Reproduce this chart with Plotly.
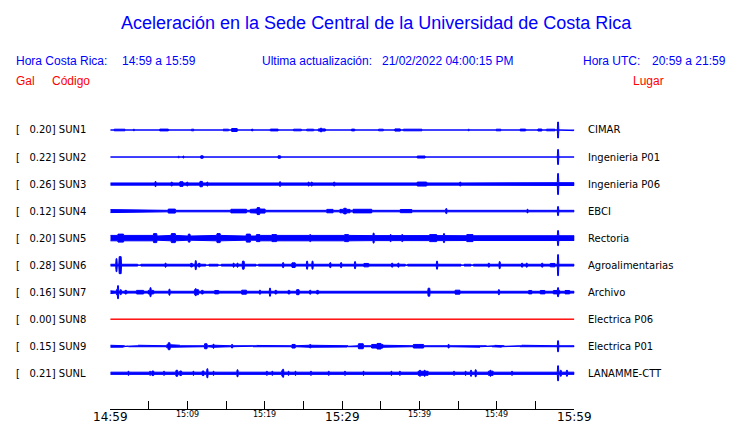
import numpy as np
import plotly.graph_objects as go

# ---------------- data ----------------
station_codes = ["SUN1", "SUN2", "SUN3", "SUN4", "SUN5", "SUN6", "SUN7", "SUN8", "SUN9", "SUNL"]
station_places = ["CIMAR", "Ingenieria P01", "Ingenieria P06", "EBCI", "Rectoria",
                  "Agroalimentarias", "Archivo", "Electrica P06", "Electrica P01", "LANAMME-CTT"]
peak_gal = [0.20, 0.22, 0.26, 0.12, 0.20, 0.28, 0.16, 0.00, 0.15, 0.21]
# background half-amplitude of each trace (display units)
base_amp = [0.5, 0.5, 1.6, 1.25, 2.6, 1.4, 1.4, 0.5, 1.0, 1.6]

# bursts: (start minute, end minute, half-amplitude)
sun1 = [(0.5, 1.9, 1.3), (3.0, 3.0, 1.3), (3.9, 4.2, 1.2), (4.7, 4.9, 1.2), (5.8, 6.1, 1.2),
        (6.4, 7.5, 1.4), (7.7, 9.0, 1.2), (9.4, 9.8, 1.2), (10.5, 10.8, 1.3), (11.6, 14.0, 1.2),
        (14.6, 15.3, 1.3), (15.7, 16.4, 2.0), (16.9, 16.9, 1.2), (18.3, 18.3, 1.5), (19.7, 20.0, 1.2),
        (20.7, 21.7, 1.4), (22.6, 23.2, 1.2), (23.7, 24.7, 1.3), (25.4, 26.3, 1.3), (26.9, 27.8, 1.6),
        (27.2, 27.2, 2.5), (28.8, 29.9, 1.2), (31.2, 31.6, 1.4), (32.4, 33.0, 1.2), (33.4, 34.0, 1.2),
        (34.7, 35.3, 1.3), (36.0, 36.6, 1.2), (36.8, 37.5, 1.6), (37.9, 40.3, 1.3), (41.1, 42.2, 1.2),
        (42.6, 44.4, 1.2), (45.0, 45.4, 1.2), (46.3, 46.3, 1.3), (47.8, 48.0, 1.2), (48.7, 48.9, 1.2),
        (49.9, 50.5, 1.3), (51.3, 52.4, 1.2), (53.0, 53.7, 1.4), (55.3, 55.8, 1.5), (56.4, 57.5, 1.3),
        (57.85, 57.95, 8.5), (59.0, 59.9, 1.2)]
sun2 = [(8.8, 8.8, 1.3), (9.4, 9.4, 1.5), (10.7, 10.7, 1.0), (11.7, 12.0, 1.7), (21.7, 22.0, 1.7),
        (39.7, 40.7, 1.5), (56.0, 56.0, 1.0), (57.85, 57.95, 8.0)]
sun3 = [(5.8, 5.8, 3.0), (7.9, 7.9, 2.5), (9.0, 9.4, 2.8), (9.9, 9.9, 2.5), (11.6, 11.9, 3.2),
        (12.5, 12.5, 2.5), (21.9, 21.9, 2.8), (25.6, 25.6, 2.5), (26.0, 26.0, 2.5), (28.9, 28.9, 2.5),
        (34.6, 34.6, 2.3), (39.7, 40.9, 2.5), (45.2, 45.2, 2.5), (56.5, 60.0, 1.9),
        (57.85, 57.95, 11.0)]
sun4 = [(0.0, 1.25, 2.0), (1.9, 2.5, 1.8), (3.2, 4.3, 1.8), (4.9, 5.6, 1.8), (7.5, 8.4, 2.5),
        (8.6, 9.4, 2.0), (10.1, 10.9, 1.8), (11.6, 12.9, 2.0), (13.5, 14.2, 1.8), (14.8, 15.3, 1.8),
        (15.6, 17.6, 2.3), (18.1, 18.7, 2.2), (18.7, 20.0, 2.5), (19.0, 19.3, 4.0), (24.1, 24.1, 2.0),
        (26.7, 27.3, 2.0), (28.0, 28.8, 2.2), (29.7, 31.0, 2.2), (30.2, 30.5, 3.3), (31.4, 33.8, 2.3),
        (32.0, 32.3, 3.0), (36.0, 36.0, 1.8), (37.5, 39.0, 2.1), (39.7, 39.7, 2.0), (41.6, 42.6, 2.0),
        (43.4, 43.4, 3.0), (48.1, 48.1, 1.8), (53.9, 53.9, 2.3), (57.85, 57.95, 5.0), (58.6, 58.6, 2.0)]
sun5 = [(0.0, 5.6, 3.2), (1.0, 1.7, 4.5), (5.6, 6.0, 5.0), (6.2, 9.9, 3.2), (7.9, 8.4, 5.0),
        (10.1, 10.3, 4.5), (11.6, 16.8, 3.2), (13.8, 14.2, 5.0), (17.6, 18.1, 4.5), (18.9, 19.4, 4.0),
        (19.4, 21.8, 3.2), (20.9, 21.5, 4.0), (23.0, 23.0, 3.5), (22.9, 27.3, 3.2), (25.8, 25.8, 4.0),
        (29.7, 31.0, 3.2), (30.3, 30.8, 4.0), (31.0, 44.0, 3.0), (44.0, 60.0, 2.9), (34.0, 34.0, 5.5),
        (36.2, 36.2, 4.0), (37.7, 37.7, 4.0), (41.3, 42.2, 4.0), (43.1, 43.1, 5.0), (46.1, 46.9, 4.0),
        (50.4, 50.4, 3.5), (54.1, 54.1, 3.5), (57.85, 57.95, 8.0)]
sun6 = [(0.75, 0.85, 7.0), (1.15, 1.4, 9.0), (3.6, 3.9, 0.6), (7.1, 7.1, 2.5), (9.4, 9.4, 2.0),
        (10.4, 10.6, 2.3), (11.0, 11.0, 5.0), (11.4, 11.6, 2.3), (12.4, 12.7, 0.6), (14.0, 14.3, 0.6),
        (15.9, 15.9, 2.5), (16.4, 16.4, 2.5), (17.1, 17.3, 4.5), (18.9, 19.1, 0.6), (19.6, 19.6, 2.0),
        (22.3, 22.3, 3.0), (23.5, 23.9, 2.8), (25.4, 25.4, 4.5), (26.1, 26.1, 4.5), (27.1, 27.1, 2.0),
        (28.4, 28.4, 3.0), (29.8, 29.8, 3.0), (30.6, 30.6, 2.0), (31.6, 31.6, 4.0), (32.8, 33.4, 2.2),
        (36.4, 36.4, 2.5), (37.2, 37.2, 2.5), (38.2, 38.4, 0.6), (39.7, 39.7, 2.0), (42.2, 42.2, 4.5),
        (44.6, 45.0, 2.0), (45.4, 45.7, 0.6), (46.7, 46.9, 0.6), (48.9, 48.9, 2.5), (50.3, 50.3, 4.0),
        (53.2, 53.2, 2.5), (53.8, 53.8, 2.5), (55.8, 55.8, 2.5), (56.9, 57.5, 2.2), (57.85, 57.95, 11.0)]
sun7 = [(0.0, 0.6, 1.9), (0.8, 0.8, 3.0), (0.95, 1.05, 7.0), (1.3, 1.3, 3.0), (1.9, 2.1, 2.3),
        (3.4, 4.3, 2.3), (4.5, 4.5, 2.0), (4.9, 5.6, 2.3), (5.15, 5.25, 5.0), (6.2, 7.3, 2.1),
        (7.6, 7.6, 3.5), (7.9, 9.0, 2.1), (9.7, 10.5, 2.1), (10.9, 11.4, 3.0), (11.0, 11.1, 4.0),
        (11.8, 12.0, 2.3), (13.5, 14.0, 2.2), (14.8, 14.8, 2.0), (15.5, 15.9, 2.0), (17.0, 17.6, 2.5),
        (19.3, 19.3, 2.5), (20.6, 20.7, 4.5), (21.3, 21.5, 2.3), (23.0, 23.2, 2.3), (24.1, 24.4, 3.0),
        (25.8, 25.8, 2.5), (26.7, 26.9, 2.3), (28.0, 28.0, 2.0), (29.7, 30.8, 2.1), (30.8, 32.5, 2.0),
        (33.1, 35.3, 2.0), (36.8, 39.6, 2.0), (41.1, 41.3, 4.5), (41.8, 43.1, 2.1), (44.6, 45.2, 2.5),
        (46.7, 47.4, 1.9), (50.2, 50.2, 3.0), (51.5, 52.5, 2.1), (54.1, 54.5, 2.2), (55.6, 56.2, 2.2),
        (57.3, 58.1, 2.2), (57.85, 57.95, 5.0), (58.8, 59.4, 2.2)]
sun8 = []
sun9 = [(0.0, 0.6, 1.5), (0.8, 1.7, 1.4), (1.9, 2.3, 0.5), (3.6, 4.5, 1.5), (4.9, 7.1, 1.4),
        (7.3, 7.9, 2.0), (7.5, 7.7, 4.0), (7.9, 9.0, 1.5), (9.2, 11.6, 1.4), (12.2, 12.5, 3.0),
        (12.7, 14.6, 1.5), (13.3, 13.3, 2.5), (15.7, 15.7, 2.3), (17.6, 18.4, 0.5), (18.9, 19.4, 1.3),
        (20.6, 22.8, 1.5), (23.5, 23.9, 2.3), (25.4, 27.3, 1.5), (25.8, 25.8, 2.3), (28.4, 30.6, 1.3),
        (30.8, 31.6, 0.5), (32.1, 32.7, 3.0), (33.8, 35.3, 2.3), (34.5, 35.0, 3.3), (35.3, 38.3, 1.5),
        (39.2, 40.5, 2.3), (39.7, 39.9, 3.0), (41.8, 42.6, 1.5), (43.7, 43.7, 2.3), (45.0, 46.1, 1.5),
        (46.7, 47.8, 1.5), (48.7, 49.3, 0.5), (49.7, 50.6, 1.4), (51.0, 52.9, 0.5), (53.2, 57.3, 1.5),
        (57.85, 57.95, 6.0), (58.6, 59.9, 1.3)]
sunl = [(2.3, 2.3, 2.5), (5.1, 5.1, 2.5), (5.4, 5.6, 2.8), (6.2, 6.2, 2.0), (6.9, 6.9, 2.5),
        (8.5, 8.7, 3.5), (9.0, 9.2, 2.8), (10.7, 10.7, 2.5), (11.9, 12.1, 2.8), (12.5, 12.5, 5.0),
        (13.3, 13.3, 2.5), (16.4, 16.4, 4.0), (20.2, 20.2, 2.5), (20.9, 20.9, 2.5), (22.2, 22.4, 3.5),
        (22.3, 22.3, 4.5), (23.0, 23.0, 2.5), (23.9, 23.9, 2.5), (25.9, 25.9, 2.5), (28.2, 28.2, 2.5),
        (30.3, 30.3, 2.5), (32.7, 32.7, 2.5), (36.3, 36.3, 2.5), (37.4, 37.4, 2.5), (39.8, 41.1, 2.5),
        (40.0, 40.0, 3.5), (40.6, 40.6, 3.5), (44.4, 44.4, 2.5), (45.9, 45.9, 2.5), (46.6, 46.6, 3.5),
        (47.2, 47.2, 4.0), (48.9, 49.5, 2.6), (49.1, 49.1, 3.5), (51.9, 51.9, 2.5), (53.8, 54.7, 2.2),
        (57.85, 57.95, 8.0), (58.2, 58.2, 3.5), (59.0, 59.0, 3.5)]
station_bursts = [sun1, sun2, sun3, sun4, sun5, sun6, sun7, sun8, sun9, sunl]

tick_minutes = list(range(0, 61, 5))
label_minutes = [0, 10, 20, 30, 40, 50, 60]
label_texts = ["14:59", "15:09", "15:19", "15:29", "15:39", "15:49", "15:59"]
label_major = [True, False, False, True, False, False, True]

title_text = "Aceleración en la Sede Central de la Universidad de Costa Rica"

# ---------------- layout constants ----------------
PAGE_OFF = 8                 # default body margin of the html page
W, H = 740 - PAGE_OFF, 423 - PAGE_OFF
X0_PX, X1_PX = 110.3, 574.3  # page pixels of the time axis ends
AXIS_PX = 409
ROW0, ROW_GAP = 130.0, 27.03
BLUE, RED = "#0000ff", "#ff0000"
trace_colors = [BLUE] * 7 + [RED] + [BLUE] * 2

GRID = np.arange(0, 60.0001, 0.05)


def envelope(base, bursts):
    env = np.full_like(GRID, base)
    for t0, t1, a in bursts:
        t1 = max(t1, t0 + 0.13)
        m = (GRID >= t0 - 1e-9) & (GRID <= t1 + 1e-9)
        env[m] = a
    return env


fig = go.Figure()
for i, code in enumerate(station_codes):
    y0 = ROW0 + i * ROW_GAP
    env = envelope(base_amp[i], station_bursts[i])
    half = np.maximum(env - 0.5, 0)
    xs = np.concatenate([GRID, GRID[::-1]])
    ys = np.concatenate([y0 - half, (y0 + half)[::-1]])
    fig.add_trace(go.Scatter(x=xs, y=ys, mode="lines", fill="toself",
                             fillcolor=trace_colors[i],
                             line=dict(color=trace_colors[i], width=1),
                             hoverinfo="skip", showlegend=False))


def px(x):
    return (x - PAGE_OFF) / W


def py(y):
    return 1 - (y - PAGE_OFF) / H


ann = []


def text(x, y, s, color="black", size=12, family="Liberation Sans", xanchor="left"):
    ann.append(dict(x=px(x), y=py(y), xref="paper", yref="paper", text=s, showarrow=False,
                    xanchor=xanchor, yanchor="middle", borderpad=0,
                    font=dict(color=color, size=size, family=family)))


text(376, 23, title_text, BLUE, 18, xanchor="center")
text(15, 60.5, "Hora Costa Rica:", BLUE)
text(121, 60.5, "14:59 a 15:59", BLUE)
text(261, 60.5, "Ultima actualización:", BLUE)
text(380.5, 60.5, "21/02/2022 04:00:15 PM", BLUE)
text(581.5, 60.5, "Hora UTC:", BLUE)
text(651, 60.5, "20:59 a 21:59", BLUE)
text(15, 81, "Gal", RED)
text(51, 81, "Código", RED)
text(632, 81, "Lugar", RED)

for i, code in enumerate(station_codes):
    y0 = ROW0 + i * ROW_GAP
    lbl = "[\u00a0\u00a0\u00a0" + f"{peak_gal[i]:.2f}" + "]\u00a0" + code
    text(15, y0, lbl, "black", 10, "DejaVu Sans")
    text(587, y0, station_places[i], "black", 10, "DejaVu Sans")

for m, s, major in zip(label_minutes, label_texts, label_major):
    xp = X0_PX + (X1_PX - X0_PX) * m / 60
    if major:
        text(xp, 416.5, s, "black", 12, "DejaVu Sans", xanchor="center")
    else:
        text(xp, 414.5, s, "black", 8, "DejaVu Sans", xanchor="center")

fig.update_layout(
    width=W, height=H, margin=dict(l=0, r=0, t=0, b=0),
    paper_bgcolor="white", plot_bgcolor="white",
    annotations=ann, showlegend=False,
    xaxis=dict(domain=[px(X0_PX), px(X1_PX)], range=[0, 60], showgrid=False, zeroline=False,
               showline=True, linecolor="black", linewidth=1, ticks="inside", ticklen=8,
               tickcolor="black", tickwidth=1, tickvals=tick_minutes, showticklabels=False,
               fixedrange=True),
    yaxis=dict(domain=[py(AXIS_PX), 1], range=[AXIS_PX, PAGE_OFF], visible=False,
               fixedrange=True),
)

fig.write_html("out.html", config={"displayModeBar": False})
